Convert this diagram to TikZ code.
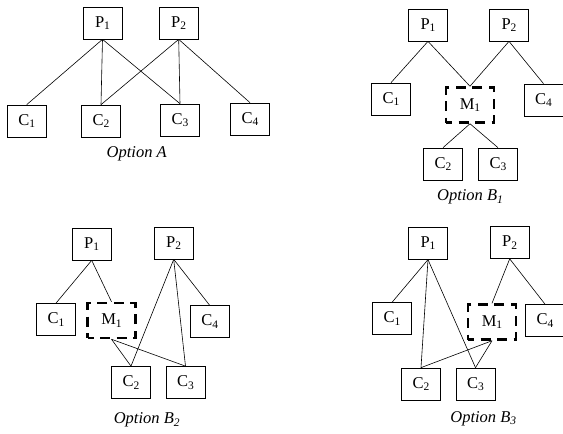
\documentclass[tikz,border=0pt]{standalone}
\usepackage{fontspec}
\setmainfont{Liberation Serif}
% subscript index set a little below the baseline, upright or italic as the context
\newcommand{\idx}[1]{\raisebox{-2.4pt}{\fontsize{11.5}{12}\selectfont #1}}
\begin{document}
\begin{tikzpicture}[x=1pt,y=-1pt,
  box/.style={draw,line width=0.7pt,minimum width=39pt,minimum height=32pt,
    inner sep=0pt,font=\fontsize{16.5}{18}\selectfont},
  mergebox/.style={draw,line width=2.5pt,dash pattern=on 10pt off 6.5pt,dash phase=4pt,
    minimum width=48pt,minimum height=35pt,inner sep=0pt,font=\fontsize{16.5}{18}\selectfont},
  link/.style={line width=0.6pt},
  caption/.style={font=\fontsize{16.5}{18}\selectfont\itshape,inner sep=0pt}]
\useasboundingbox (0,0) rectangle (563,434);

% ---- Option A: two parents, four children, crossed links
\node[box] (aP1) at (102.5,23) {P\idx{1}};
\node[box] (aP2) at (178.7,23) {P\idx{2}};
\node[box] (aC1) at (26.7,121) {C\idx{1}};
\node[box] (aC2) at (101,121) {C\idx{2}};
\node[box] (aC3) at (180,120) {C\idx{3}};
\node[box] (aC4) at (250,119) {C\idx{4}};
\node[caption] (aL) at (136.7,154) {Option A};
\draw[link] (aP1.south) -- (aC1.north);
\draw[link] (aP1.south) -- (aC2.north);
\draw[link] (aP1.south) -- (aC3.north);
\draw[link] (aP2.south) -- (aC2.north);
\draw[link] (aP2.south) -- (aC3.north);
\draw[link] (aP2.south) -- (aC4.north);

% ---- Option B1: shared children grouped under a merge node
\node[box] (bP1) at (428,25) {P\idx{1}};
\node[box] (bP2) at (509,25) {P\idx{2}};
\node[box] (bC1) at (391,99) {C\idx{1}};
\node[mergebox] (bM1) at (470,105) {M\idx{1}};
\node[box] (bC4) at (543.5,100) {C\idx{4}};
\node[box] (bC2) at (443,164) {C\idx{2}};
\node[box] (bC3) at (498,164) {C\idx{3}};
\node[caption] (bL) at (470,197) {Option B\idx{1}};
\draw[link] (bP1.south) -- (bC1.north);
\draw[link] (bP1.south) -- (bM1.north);
\draw[link] (bP2.south) -- (bM1.north);
\draw[link] (bP2.south) -- (bC4.north);
\draw[link] (bM1.south) -- (bC2.north);
\draw[link] (bM1.south) -- (bC3.north);

% ---- Option B2: merge node under P1 only
\node[box] (cP1) at (91.7,244) {P\idx{1}};
\node[box] (cP2) at (173.7,243) {P\idx{2}};
\node[box] (cC1) at (56,319.5) {C\idx{1}};
\node[mergebox] (cM1) at (111.5,320.5) {M\idx{1}};
\node[box] (cC4) at (209.7,321.7) {C\idx{4}};
\node[box] (cC2) at (131,382.5) {C\idx{2}};
\node[box] (cC3) at (185.5,382.5) {C\idx{3}};
\node[caption] (cL) at (146.7,420) {Option B\idx{2}};
\draw[link] (cP1.south) -- (cC1.north);
\draw[link] (cP1.south) -- (cM1.north);
\draw[link] (cP2.south) -- (cC2.north);
\draw[link] (cP2.south) -- (cC3.north);
\draw[link] (cP2.south) -- (cC4.north);
\draw[link] (cM1.south) -- (cC2.north);
\draw[link] (cM1.south) -- (cC3.north);

% ---- Option B3: merge node under P2 only
\node[box] (dP1) at (428,243.3) {P\idx{1}};
\node[box] (dP2) at (509.7,242.5) {P\idx{2}};
\node[box] (dC1) at (392,318.7) {C\idx{1}};
\node[mergebox] (dM1) at (492,322) {M\idx{1}};
\node[box] (dC4) at (545,320.5) {C\idx{4}};
\node[box] (dC2) at (421,384) {C\idx{2}};
\node[box] (dC3) at (475.5,384) {C\idx{3}};
\node[caption] (dL) at (483.3,418.3) {Option B\idx{3}};
\draw[link] (dP1.south) -- (dC1.north);
\draw[link] (dP1.south) -- (dC2.north);
\draw[link] (dP1.south) -- (dC3.north);
\draw[link] (dP2.south) -- (dM1.north);
\draw[link] (dP2.south) -- (dC4.north);
\draw[link] (dM1.south) -- (dC2.north);
\draw[link] (dM1.south) -- (dC3.north);
\end{tikzpicture}
\end{document}
